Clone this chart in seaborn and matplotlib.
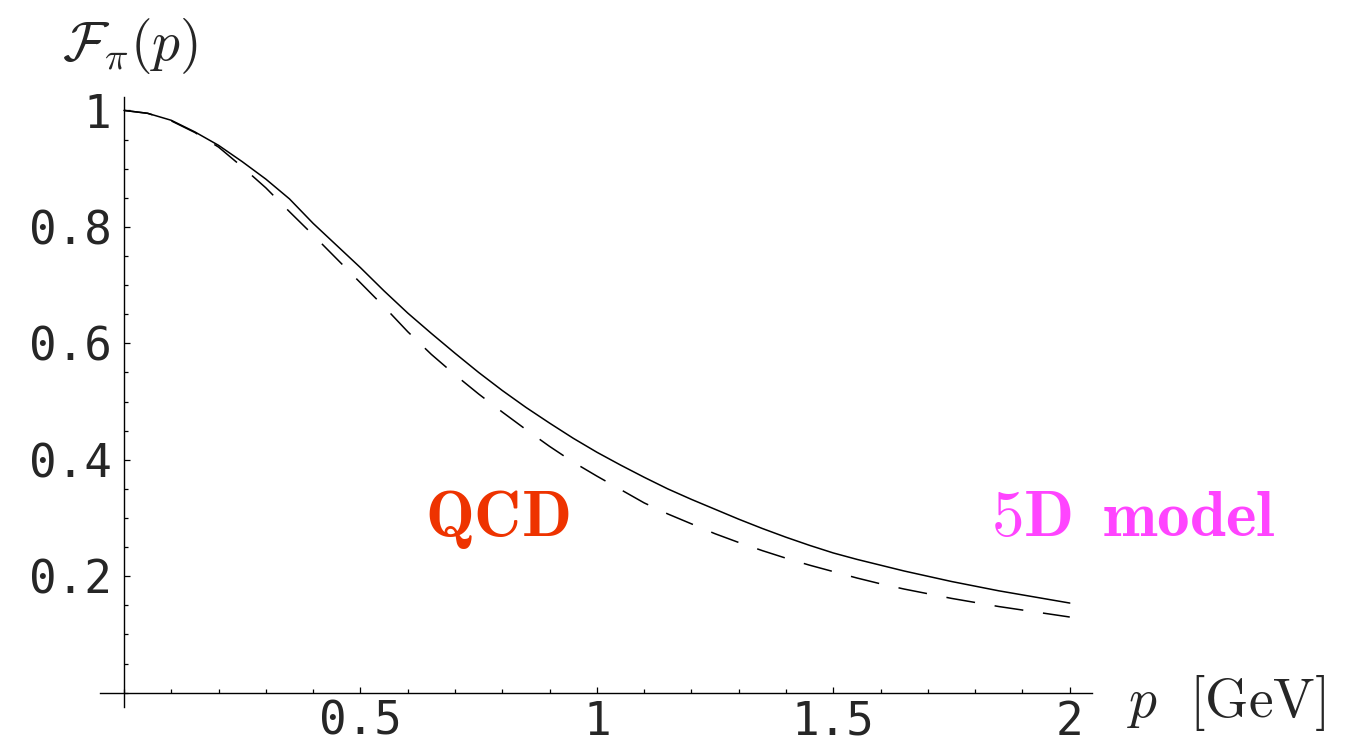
import numpy as np
import pandas as pd
import matplotlib
matplotlib.use("Agg")
import matplotlib.pyplot as plt
from matplotlib.ticker import MultipleLocator
import seaborn as sns

sns.set_theme(style="white")
plt.rcParams["mathtext.fontset"] = "cm"
plt.rcParams["font.family"] = ["DejaVu Sans"]

# momentum p [GeV]
p_vals = [0.00, 0.05, 0.10, 0.15, 0.20, 0.25, 0.30, 0.35, 0.40, 0.45,
          0.50, 0.55, 0.60, 0.65, 0.70, 0.75, 0.80, 0.85, 0.90, 0.95,
          1.00, 1.05, 1.10, 1.15, 1.20, 1.25, 1.30, 1.35, 1.40, 1.45,
          1.50, 1.55, 1.60, 1.65, 1.70, 1.75, 1.80, 1.85, 1.90, 1.95, 2.00]

# solid curve
f_solid = [1.000, 0.995, 0.983, 0.963, 0.940, 0.912, 0.882, 0.848, 0.806, 0.768,
           0.730, 0.690, 0.652, 0.617, 0.583, 0.550, 0.519, 0.490, 0.463, 0.437,
           0.413, 0.391, 0.370, 0.350, 0.332, 0.315, 0.298, 0.282, 0.267, 0.253,
           0.240, 0.229, 0.219, 0.209, 0.200, 0.191, 0.183, 0.175, 0.168, 0.161, 0.154]

# dashed curve
f_dashed = [1.000, 0.995, 0.982, 0.962, 0.937, 0.903, 0.867, 0.826, 0.786, 0.745,
            0.704, 0.663, 0.620, 0.581, 0.546, 0.513, 0.482, 0.452, 0.423, 0.396,
            0.372, 0.349, 0.326, 0.307, 0.290, 0.273, 0.258, 0.244, 0.231, 0.219,
            0.208, 0.197, 0.187, 0.178, 0.170, 0.162, 0.155, 0.148, 0.142, 0.136, 0.130]

x_ticks = [0.5, 1.0, 1.5, 2.0]
x_labels = ["0.5", "1", "1.5", "2"]
y_ticks = [0.2, 0.4, 0.6, 0.8, 1.0]
y_labels = ["0.2", "0.4", "0.6", "0.8", "1"]

df = pd.DataFrame({"p": p_vals, "solid": f_solid, "dashed": f_dashed})

fig = plt.figure(figsize=(13.53, 7.44), dpi=100)
ax = fig.add_axes([100 / 1353, 1 - 707 / 744, 992 / 1353, 610 / 744])

sns.lineplot(data=df, x="p", y="solid", ax=ax, color="black", lw=1.1,
             estimator=None, sort=False)
sns.lineplot(data=df, x="p", y="dashed", ax=ax, color="black", lw=1.1,
             estimator=None, sort=False, linestyle=(0, (19, 13)))

ax.set_xlim(-0.0507, 2.047)
ax.set_ylim(-0.0245, 1.023)

for s in ["top", "right"]:
    ax.spines[s].set_visible(False)
for s in ["left", "bottom"]:
    ax.spines[s].set_position(("data", 0))
    ax.spines[s].set_color("black")
    ax.spines[s].set_linewidth(1.0)

ax.set_xticks(x_ticks)
ax.set_xticklabels(x_labels, fontfamily="DejaVu Sans Mono", fontsize=33)
ax.set_yticks(y_ticks)
ax.set_yticklabels(y_labels, fontfamily="DejaVu Sans Mono", fontsize=33)
ax.xaxis.set_minor_locator(MultipleLocator(0.1))
ax.yaxis.set_minor_locator(MultipleLocator(0.05))
ax.tick_params(which="both", direction="in", color="black", width=0.9,
               bottom=True, left=True)
ax.tick_params(which="major", length=4.5)
ax.tick_params(which="minor", length=2.6)
ax.tick_params(axis="x", which="major", pad=5)
ax.tick_params(axis="y", which="major", pad=9)
ax.set_xlabel("")
ax.set_ylabel("")

fig.text(62 / 1353, 1 - 60 / 744, r"$\mathcal{F}_\pi(p)$", fontsize=40,
         ha="left", va="baseline")
fig.text(1127 / 1353, 1 - 717 / 744, r"$p\ \ [\mathrm{GeV}]$", fontsize=40,
         ha="left", va="baseline")
ax.text(0.79, 0.27, r"$\mathbf{QCD}$", fontsize=47, color="#EE3300",
        ha="center", va="baseline")
ax.text(2.135, 0.27, r"$\mathbf{5D\ \,model}$", fontsize=47, color="#FF44FF",
        ha="center", va="baseline", clip_on=False)

fig.savefig("out.png", dpi=100)
plt.close()
